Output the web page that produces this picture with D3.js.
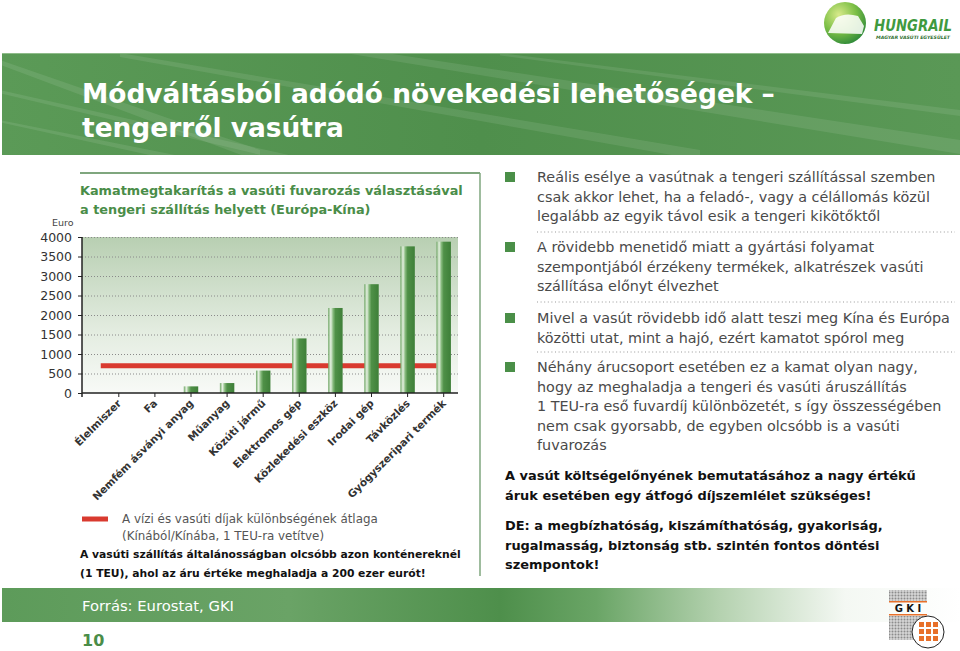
<!DOCTYPE html>
<html><head><meta charset="utf-8">
<script src="https://cdn.jsdelivr.net/npm/d3@7"></script>
<style>body{margin:0;background:#fff;overflow:hidden}svg{display:block}</style>
</head><body>
<svg id="c" width="960" height="651"></svg>
<script>
// ---------- data ----------
const categories = ["Élelmiszer","Fa","Nemfém ásványi anyag","Műanyag","Közúti jármű","Elektromos gép","Közlekedési eszköz","Irodai gép","Távközlés","Gyógyszeripari termék"];
const savings = [0, 0, 170, 255, 575, 1400, 2180, 2790, 3760, 3880];
const averageFeeDifference = 700;
const yTicks = [0, 500, 1000, 1500, 2000, 2500, 3000, 3500, 4000];
const pageTitle = ["Módváltásból adódó növekedési lehetőségek –", "tengerről vasútra"];
const chartTitle = ["Kamatmegtakarítás a vasúti fuvarozás választásával", "a tengeri szállítás helyett (Európa-Kína)"];
const legendText = ["A vízi és vasúti díjak különbségének átlaga", "(Kínából/Kínába, 1 TEU-ra vetítve)"];
const noteText = ["A vasúti szállítás általánosságban olcsóbb azon konténereknél", "(1 TEU), ahol az áru értéke meghaladja a 200 ezer eurót!"];
const bullets = [
  ["Reális esélye a vasútnak a tengeri szállítással szemben", "csak akkor lehet, ha a feladó-, vagy a célállomás közül", "legalább az egyik távol esik a tengeri kikötőktől"],
  ["A rövidebb menetidő miatt a gyártási folyamat", "szempontjából érzékeny termékek, alkatrészek vasúti", "szállítása előnyt élvezhet"],
  ["Mivel a vasút rövidebb idő alatt teszi meg Kína és Európa", "közötti utat, mint a hajó, ezért kamatot spórol meg"],
  ["Néhány árucsoport esetében ez a kamat olyan nagy,", "hogy az meghaladja a tengeri és vasúti áruszállítás", "1 TEU-ra eső fuvardíj különbözetét, s így összességében", "nem csak gyorsabb, de egyben olcsóbb is a vasúti", "fuvarozás"]
];
const boldNotes = [
  ["A vasút költségelőnyének bemutatásához a nagy értékű", "áruk esetében egy átfogó díjszemlélet szükséges!"],
  ["DE: a megbízhatóság, kiszámíthatóság, gyakoriság,", "rugalmasság, biztonság stb. szintén fontos döntési", "szempontok!"]
];
const sourceText = "Forrás: Eurostat, GKI";
const pageNumber = "10";

// ---------- drawing ----------
const svg = d3.select("#c");
const FONT = "'DejaVu Sans', sans-serif";
const defs = svg.append("defs");

// scale a text's font size so that a given line reaches a target width
function fit(textSel, lineNode, target){
  const w = lineNode.getComputedTextLength();
  const fs = +textSel.attr("font-size");
  if (w > 0) textSel.attr("font-size", (fs*target/w).toFixed(2));
}

// header gradient + streaks
const hg = defs.append("linearGradient").attr("id","hg").attr("x1","0").attr("y1","0").attr("x2","1").attr("y2","0");
hg.append("stop").attr("offset","0%").attr("stop-color","#5b9a57");
hg.append("stop").attr("offset","50%").attr("stop-color","#4f8f4c");
hg.append("stop").attr("offset","100%").attr("stop-color","#5a9856");
svg.append("rect").attr("x",2).attr("y",53).attr("width",958).attr("height",102).attr("fill","url(#hg)");
const clip = defs.append("clipPath").attr("id","hclip");
clip.append("rect").attr("x",2).attr("y",53).attr("width",958).attr("height",102);
const streaks = svg.append("g").attr("clip-path","url(#hclip)");
[[0,60,260,150,12],[0,90,400,180,8],[120,53,700,150,10],[300,40,960,140,14],[500,53,960,110,6],[0,120,200,160,6]].forEach(s=>{
  streaks.append("path").attr("d",`M${s[0]},${s[1]} L${s[2]},${s[3]} L${s[2]},${s[3]+s[4]} L${s[0]},${s[1]+s[4]*0.4} Z`)
    .attr("fill","#ffffff").attr("opacity",0.09);
});
svg.append("line").attr("x1",2).attr("x2",960).attr("y1",53.5).attr("y2",53.5).attr("stroke","#8fbc8a").attr("stroke-width",1);
const tt = svg.append("text").attr("fill","#ffffff").attr("font-family",FONT).attr("font-weight",700).attr("font-size",26);
const ttLines = pageTitle.map((t,i)=>tt.append("tspan").attr("x",82).attr("y",103+i*34).text(t));
fit(tt, ttLines[0].node(), 693);

// HUNGRAIL logo
const lg = defs.append("radialGradient").attr("id","lg").attr("cx","35%").attr("cy","30%").attr("r","75%");
lg.append("stop").attr("offset","0%").attr("stop-color","#d8ea8a");
lg.append("stop").attr("offset","55%").attr("stop-color","#7cbf45");
lg.append("stop").attr("offset","100%").attr("stop-color","#2f8a3a");
svg.append("circle").attr("cx",845).attr("cy",23).attr("r",21).attr("fill","url(#lg)");
svg.append("path").attr("d","M828,33 L836,18 Q845,12 858,16 L864,26 L862,34 Z").attr("fill","#ffffff").attr("opacity",0.85);
svg.append("text").attr("transform","translate(874,31) scale(1,1.25)").attr("font-family",FONT).attr("font-weight",700).attr("font-style","italic").attr("font-size",13.3).attr("fill","#3f9a3f").text("HUNGRAIL");
svg.append("text").attr("x",876).attr("y",39).attr("font-family",FONT).attr("font-weight",700).attr("font-style","italic").attr("font-size",4.6).attr("fill","#2f6f2f").attr("textLength",74).attr("lengthAdjust","spacingAndGlyphs").text("MAGYAR VASÚTI EGYESÜLET");

// chart panel frame
svg.append("line").attr("x1",80).attr("x2",480).attr("y1",173).attr("y2",173).attr("stroke","#7fa67e").attr("stroke-width",2);
svg.append("line").attr("x1",480).attr("x2",480).attr("y1",173).attr("y2",576).attr("stroke","#7fa67e").attr("stroke-width",1.5);

const ct = svg.append("text").attr("fill","#4a8d48").attr("font-family",FONT).attr("font-weight",700).attr("font-size",13);
const ctLines = chartTitle.map((t,i)=>ct.append("tspan").attr("x",80).attr("y",195+i*19).text(t));
fit(ct, ctLines[0].node(), 383);

// scales
const plotL = 82, plotR = 458, plotT = 237, plotB = 393;
const y = d3.scaleLinear().domain([0,4000]).range([plotB, plotT]);
const x = d3.scaleBand().domain(categories).range([100.75, 461.75]).paddingInner(0.6).paddingOuter(0.3);

// plot background gradient
const pg = defs.append("linearGradient").attr("id","pg").attr("x1","0").attr("y1","0").attr("x2","0").attr("y2","1");
pg.append("stop").attr("offset","0%").attr("stop-color","#b8cfb2");
pg.append("stop").attr("offset","60%").attr("stop-color","#e3ece0");
pg.append("stop").attr("offset","100%").attr("stop-color","#f8faf7");
svg.append("rect").attr("x",plotL).attr("y",plotT).attr("width",plotR-plotL).attr("height",plotB-plotT).attr("fill","url(#pg)");

// gridlines
svg.append("g").selectAll("line").data(yTicks.filter(d=>d>0)).join("line")
  .attr("x1",plotL).attr("x2",plotR).attr("y1",d=>y(d)+0.5).attr("y2",d=>y(d)+0.5)
  .attr("stroke","#8a8a8a").attr("stroke-width",1).attr("stroke-dasharray","1,2");

// average line (behind bars)
svg.append("line").attr("x1",x.range()[0]).attr("x2",x(categories[categories.length-1]))
  .attr("y1",y(averageFeeDifference)).attr("y2",y(averageFeeDifference))
  .attr("stroke","#d93a2f").attr("stroke-width",5);

// bars
const bg = defs.append("linearGradient").attr("id","bg").attr("x1","0").attr("y1","0").attr("x2","1").attr("y2","0");
[["0%","#6fa665"],["18%","#e6f1e2"],["34%","#86b97c"],["50%","#4f9047"],["100%","#3e7f38"]].forEach(s=>bg.append("stop").attr("offset",s[0]).attr("stop-color",s[1]));
svg.append("g").selectAll("rect").data(categories.map((c,i)=>({c,v:savings[i]}))).join("rect")
  .attr("x",d=>x(d.c)).attr("width",x.bandwidth())
  .attr("y",d=>y(d.v)).attr("height",d=>plotB-y(d.v)).attr("fill","url(#bg)");

// axes
const yAxis = svg.append("g").attr("transform",`translate(${plotL},0)`)
  .call(d3.axisLeft(y).tickValues(yTicks).tickSize(4).tickPadding(6).tickFormat(d3.format("d")));
yAxis.select(".domain").remove();
yAxis.selectAll("line").attr("stroke","#222");
yAxis.selectAll("text").attr("font-family",FONT).attr("font-size",12.5).attr("fill","#333");
svg.append("line").attr("x1",plotL).attr("x2",plotL).attr("y1",plotT).attr("y2",plotB+4).attr("stroke","#222").attr("stroke-width",1.5);

const xAxis = svg.append("g").attr("transform",`translate(0,${plotB})`)
  .call(d3.axisBottom(x).tickSize(4).tickFormat(""));
xAxis.select(".domain").remove();
xAxis.selectAll("line").attr("stroke","#222");
svg.append("line").attr("x1",plotL).attr("x2",plotR).attr("y1",plotB).attr("y2",plotB).attr("stroke","#222").attr("stroke-width",1.5);

svg.append("text").attr("x",52).attr("y",226).attr("font-family",FONT).attr("font-size",9.5).attr("fill","#444").text("Euro");

// category labels
const catG = svg.append("g").attr("font-family",FONT).attr("font-weight",700).attr("font-size",11);
const catT = catG.selectAll("text").data(categories).join("text")
  .attr("transform",d=>`translate(${x(d)+x.bandwidth()/2+3},${plotB+11}) rotate(-45)`)
  .attr("text-anchor","end").attr("fill","#333").text(d=>d);
fit(catG, catT.nodes()[categories.length-1], 134);

// legend
svg.append("line").attr("x1",82).attr("x2",108).attr("y1",519).attr("y2",519).attr("stroke","#d93a2f").attr("stroke-width",5);
const lt = svg.append("text").attr("font-family",FONT).attr("font-size",12).attr("fill","#555");
const ltLines = legendText.map((t,i)=>lt.append("tspan").attr("x",122).attr("y",523+i*17).text(t));
fit(lt, ltLines[0].node(), 256);
const nt = svg.append("text").attr("font-family",FONT).attr("font-weight",700).attr("font-size",12).attr("fill","#111");
const ntLines = noteText.map((t,i)=>nt.append("tspan").attr("x",80).attr("y",558+i*19).text(t));
fit(nt, ntLines[0].node(), 381);

// right column bullets
const bulletStarts = [182, 252, 323, 372];
const sepY = [232, 302, 352];
const bulletText = svg.append("g").attr("font-family",FONT).attr("font-size",14).attr("fill","#4a4a4a");
let refLine = null;
bullets.forEach((lines,bi)=>{
  svg.append("rect").attr("x",505).attr("y",bulletStarts[bi]-10).attr("width",10).attr("height",10).attr("fill","#4a8f48");
  const t = bulletText.append("text");
  lines.forEach((l,i)=>{
    const ts = t.append("tspan").attr("x",537).attr("y",bulletStarts[bi]+i*19.6).text(l);
    if (bi===2 && i===0) refLine = ts.node();
  });
});
fit(bulletText, refLine, 413);
sepY.forEach(s=>svg.append("line").attr("x1",537).attr("x2",955).attr("y1",s).attr("y2",s)
  .attr("stroke","#999").attr("stroke-width",1).attr("stroke-dasharray","1,2.6"));
const boldStarts = [480, 530];
const boldG = svg.append("g").attr("font-family",FONT).attr("font-weight",700).attr("font-size",13).attr("fill","#111");
let boldRef = null;
boldNotes.forEach((lines,bi)=>{
  const t = boldG.append("text");
  lines.forEach((l,i)=>{
    const ts = t.append("tspan").attr("x",505).attr("y",boldStarts[bi]+i*19.6).text(l);
    if (bi===0 && i===0) boldRef = ts.node();
  });
});
fit(boldG, boldRef, 411);

// footer
const fg = defs.append("linearGradient").attr("id","fg").attr("x1","0").attr("y1","0").attr("x2","1").attr("y2","0");
[["0%","#5d9b5a"],["30%","#6aa366"],["52%","#4e8f4b"],["62%","#6aa566"],["75%","#b5d2b0"],["88%","#f4f8f3"],["100%","#ffffff"]].forEach(s=>fg.append("stop").attr("offset",s[0]).attr("stop-color",s[1]));
svg.append("rect").attr("x",2).attr("y",588).attr("width",958).attr("height",34).attr("fill","url(#fg)");
const src = svg.append("text").attr("x",82).attr("y",611).attr("font-family",FONT).attr("font-size",13).attr("fill","#ffffff").text(sourceText);
fit(src, src.node(), 152);
svg.append("text").attr("x",82).attr("y",646).attr("font-family",FONT).attr("font-weight",700).attr("font-size",16).attr("fill","#4a8d48").text(pageNumber);

// GKI logo
const dp = defs.append("pattern").attr("id","dots").attr("width",3).attr("height",3).attr("patternUnits","userSpaceOnUse");
dp.append("rect").attr("width",3).attr("height",3).attr("fill","#d6d6d6");
dp.append("circle").attr("cx",1.5).attr("cy",1.5).attr("r",1).attr("fill","#8c8c8c");
svg.append("rect").attr("x",889).attr("y",590).attr("width",38).attr("height",11).attr("fill","url(#dots)");
svg.append("rect").attr("x",889).attr("y",601).attr("width",38).attr("height",1.5).attr("fill","#e8702a");
svg.append("text").attr("x",908).attr("y",612).attr("text-anchor","middle").attr("font-family",FONT).attr("font-weight",700).attr("font-size",10).attr("fill","#111").text("G K I");
svg.append("rect").attr("x",889).attr("y",614).attr("width",38).attr("height",1.5).attr("fill","#e8702a");
svg.append("rect").attr("x",889).attr("y",616).attr("width",38).attr("height",24).attr("fill","url(#dots)");
svg.append("circle").attr("cx",928).attr("cy",632).attr("r",16).attr("fill","#ffffff").attr("stroke","#222").attr("stroke-width",1);
for(let r=0;r<3;r++)for(let c=0;c<3;c++)
  svg.append("rect").attr("x",919+c*7).attr("y",622+r*7).attr("width",5).attr("height",5).attr("fill","#e8702a");
</script>
</body></html>
